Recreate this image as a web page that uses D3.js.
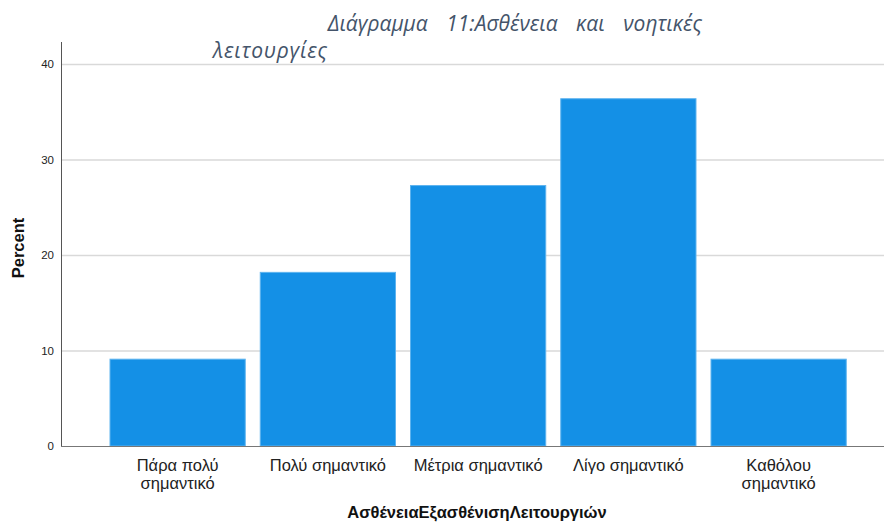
<!DOCTYPE html>
<html>
<head>
<meta charset="utf-8">
<script src="https://cdn.jsdelivr.net/npm/d3@7"></script>
<style>
  body { margin: 0; background: #fff; }
  svg { display: block; font-family: "Liberation Sans", Arial, sans-serif; }
</style>
</head>
<body>
<div id="plot_area"></div>
<script>
// data
var categories = ["Πάρα πολύ|σημαντικό", "Πολύ σημαντικό", "Μέτρια σημαντικό", "Λίγο σημαντικό", "Καθόλου|σημαντικό"];
var percents = [9.09, 18.18, 27.27, 36.36, 9.09];
var yTicks = [0, 10, 20, 30, 40];

var W = 884, H = 522;
var margin = {top: 42, right: 0, bottom: 76, left: 61};
var width = W - margin.left - margin.right,
    height = H - margin.top - margin.bottom;

var svg = d3.select("#plot_area")
  .append("svg")
    .attr("width", W)
    .attr("height", H);

var g = svg.append("g")
    .attr("transform", "translate(" + margin.left + "," + margin.top + ")");

// y scale: 0 at bottom, 40 a bit below the top
var y = d3.scaleLinear()
  .domain([0, 42.3])
  .range([height, 0]);

var x = d3.scaleBand()
  .domain(categories)
  .range([41.5, 41.5 + 150.25 * 5])
  .paddingInner(0.1)
  .paddingOuter(0.05);

// gridlines
g.append("g")
  .call(d3.axisLeft(y).tickValues(yTicks.slice(1)).tickSize(-width).tickFormat(""))
  .call(function (s) { s.select(".domain").remove(); })
  .selectAll(".tick line")
    .attr("stroke", "#d9d9d9")
    .attr("stroke-width", 1.5);

// bars
g.selectAll(".bar")
  .data(percents)
  .enter()
  .append("rect")
    .attr("class", "bar")
    .attr("x", function (d, i) { return x(categories[i]); })
    .attr("y", function (d) { return y(d); })
    .attr("width", x.bandwidth())
    .attr("height", function (d) { return height - y(d); })
    .attr("fill", "#1490e6")
    .attr("stroke", "#5db3ef")
    .attr("stroke-width", 1);

// y axis
var yAxis = g.append("g")
  .call(d3.axisLeft(y).tickValues(yTicks).tickSize(0).tickPadding(7));
yAxis.select(".domain").attr("stroke", "#555").attr("d", "M0.5,0V" + height);
yAxis.selectAll("text")
  .attr("font-family", "Liberation Sans, Arial, sans-serif")
  .attr("font-size", 11.5)
  .attr("fill", "#222");

// x axis line
g.append("line")
  .attr("x1", 0).attr("x2", width)
  .attr("y1", height + 0.5).attr("y2", height + 0.5)
  .attr("stroke", "#777");

// category labels
var labels = g.selectAll(".cat")
  .data(categories)
  .enter()
  .append("text")
    .attr("class", "cat")
    .attr("text-anchor", "middle")
    .attr("font-size", 16.5)
    .attr("fill", "#222")
    .attr("transform", function (d) {
      return "translate(" + (x(d) + x.bandwidth() / 2) + "," + (height + 25) + ")";
    });
labels.selectAll("tspan")
  .data(function (d) { return d.split("|"); })
  .enter()
  .append("tspan")
    .attr("x", 0)
    .attr("dy", function (d, i) { return i === 0 ? 0 : 18; })
    .text(function (d) { return d; });

// axis titles
svg.append("text")
  .attr("x", 477)
  .attr("y", 518)
  .attr("text-anchor", "middle")
  .attr("font-size", 16.5)
  .attr("font-weight", "bold")
  .attr("fill", "#111")
  .text("ΑσθένειαΕξασθένισηΛειτουργιών");

svg.append("text")
  .attr("transform", "translate(24,248) rotate(-90)")
  .attr("text-anchor", "middle")
  .attr("font-size", 16.5)
  .attr("font-weight", "bold")
  .attr("fill", "#111")
  .text("Percent");

// title text box (white background over the chart)
svg.append("rect")
  .attr("x", 205).attr("y", 0)
  .attr("width", 498).attr("height", 62)
  .attr("fill", "#fff")
  .attr("opacity", 0.6);

svg.append("text")
  .attr("x", 702)
  .attr("y", 31)
  .attr("text-anchor", "end")
  .attr("font-family", "Open Sans, sans-serif")
  .attr("font-style", "italic")
  .attr("font-size", 21)
  .attr("word-spacing", 13)
  .attr("fill", "#44546a")
  .text("Διάγραμμα 11:Ασθένεια και νοητικές");

svg.append("text")
  .attr("x", 213)
  .attr("y", 58)
  .attr("font-family", "Open Sans, sans-serif")
  .attr("font-style", "italic")
  .attr("font-size", 21)
  .attr("letter-spacing", 0.8)
  .attr("fill", "#44546a")
  .text("λειτουργίες");
</script>
</body>
</html>
